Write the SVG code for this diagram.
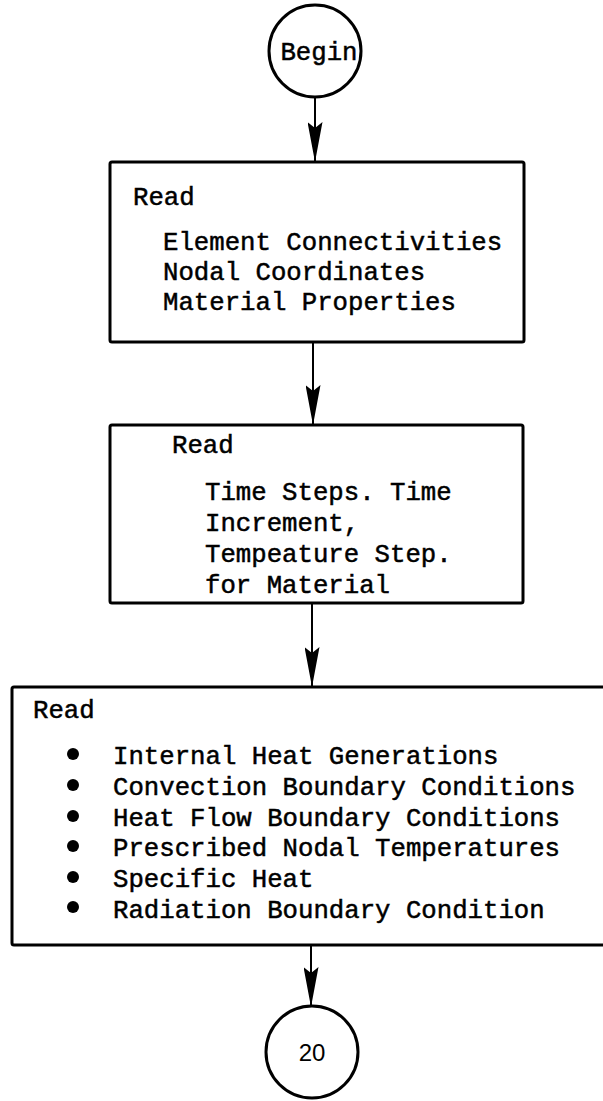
<svg xmlns="http://www.w3.org/2000/svg" width="603" height="1101" viewBox="0 0 603 1101">
<style>
.box{fill:#fff;stroke:#000;stroke-width:3}
.term{fill:#fff;stroke:#000;stroke-width:3}
.t{font-family:"Liberation Mono","DejaVu Sans Mono",monospace;font-size:25.7px;fill:#000;stroke:#000;stroke-width:0.5}
.n{font-family:"Liberation Sans",Arial,sans-serif;font-size:24px;fill:#000}
.c{stroke:#000;stroke-width:2;fill:none}
.bul{fill:#000}
</style>
<defs>
<marker id="ah" markerUnits="userSpaceOnUse" markerWidth="40" markerHeight="15" refX="40" refY="7.5" orient="auto" viewBox="0 0 40 15">
<path d="M0,0 L6,7.5 L0,15 L40,7.5 Z" fill="#000"/>
</marker>
</defs>
<g id="connectors">
<line class="c" x1="315" y1="97" x2="315" y2="162" marker-end="url(#ah)"/>
<line class="c" x1="313" y1="342" x2="313" y2="425" marker-end="url(#ah)"/>
<line class="c" x1="312" y1="603" x2="312" y2="687" marker-end="url(#ah)"/>
<line class="c" x1="311" y1="945" x2="311" y2="1007" marker-end="url(#ah)"/>
</g>
<g id="begin">
<circle class="term" cx="315" cy="51" r="46"/>
<text class="t" x="319" y="60" text-anchor="middle">Begin</text>
</g>
<g id="read1">
<rect class="box" x="110" y="162" width="414" height="180" rx="2"/>
<text class="t" x="133" y="205">Read</text>
<text class="t" x="163" y="250">Element Connectivities</text>
<text class="t" x="163" y="280">Nodal Coordinates</text>
<text class="t" x="163" y="310">Material Properties</text>
</g>
<g id="read2">
<rect class="box" x="110" y="425" width="413" height="178" rx="2"/>
<text class="t" x="172" y="453">Read</text>
<text class="t" x="205" y="500">Time Steps. Time</text>
<text class="t" x="205" y="531">Increment,</text>
<text class="t" x="205" y="562">Tempeature Step.</text>
<text class="t" x="205" y="593">for Material</text>
</g>
<g id="read3">
<rect class="box" x="12" y="687" width="620" height="258" rx="2"/>
<text class="t" x="33" y="718">Read</text>
<circle class="bul" cx="73" cy="754" r="6"/>
<circle class="bul" cx="73" cy="785" r="6"/>
<circle class="bul" cx="73" cy="816" r="6"/>
<circle class="bul" cx="73" cy="846" r="6"/>
<circle class="bul" cx="73" cy="877" r="6"/>
<circle class="bul" cx="73" cy="907" r="6"/>
<text class="t" x="113" y="764">Internal Heat Generations</text>
<text class="t" x="113" y="795">Convection Boundary Conditions</text>
<text class="t" x="113" y="826">Heat Flow Boundary Conditions</text>
<text class="t" x="113" y="856">Prescribed Nodal Temperatures</text>
<text class="t" x="113" y="887">Specific Heat</text>
<text class="t" x="113" y="918">Radiation Boundary Condition</text>
</g>
<g id="c20">
<circle class="term" cx="312" cy="1052" r="46"/>
<text class="n" x="312" y="1061" text-anchor="middle">20</text>
</g>
</svg>
